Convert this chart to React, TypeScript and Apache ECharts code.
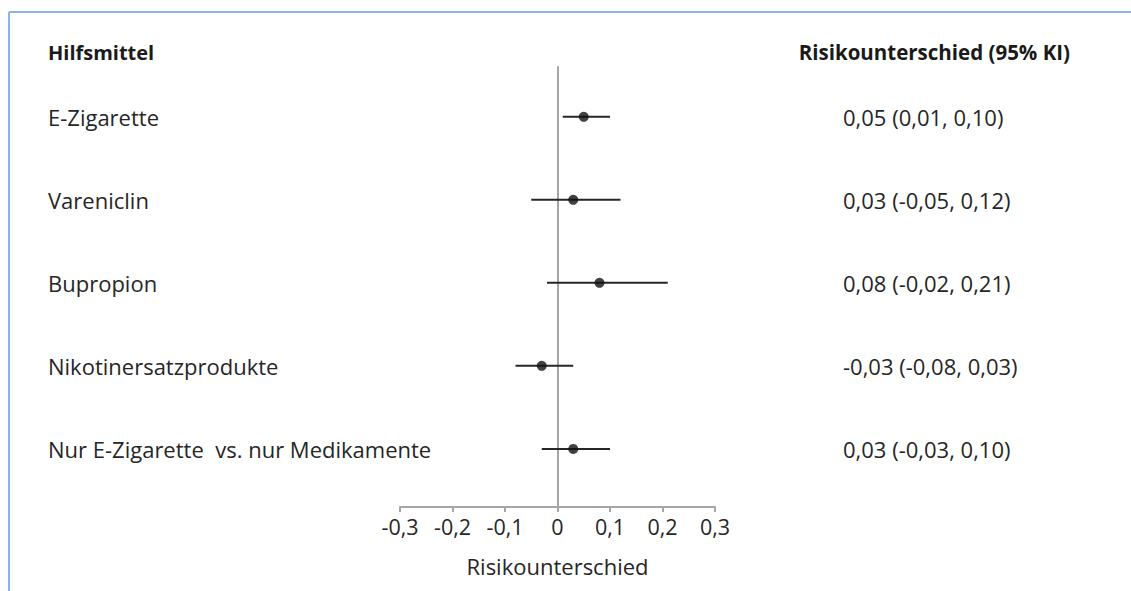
import React, { useEffect, useRef } from "react";
import * as echarts from "echarts";

const categories = [
  "E-Zigarette",
  "Vareniclin",
  "Bupropion",
  "Nikotinersatzprodukte",
  "Nur E-Zigarette  vs. nur Medikamente",
];
const estimates = [0.05, 0.03, 0.08, -0.03, 0.03];
const lowerCI = [0.01, -0.05, -0.02, -0.08, -0.03];
const upperCI = [0.1, 0.12, 0.21, 0.03, 0.1];
const ciLabels = [
  "0,05 (0,01, 0,10)",
  "0,03 (-0,05, 0,12)",
  "0,08 (-0,02, 0,21)",
  "-0,03 (-0,08, 0,03)",
  "0,03 (-0,03, 0,10)",
];

const FONT = "Open Sans";
const FS = 22;
const FSB = 20;

export default function App() {
  const ref = useRef<HTMLDivElement>(null);
  useEffect(() => {
    if (!ref.current) return;
    const chart = echarts.init(ref.current, undefined, { renderer: "svg" });
    const rows = categories.map((c, i) => [estimates[i], i, lowerCI[i], upperCI[i]]);
    chart.setOption({
      animation: false,
      backgroundColor: "#ffffff",
      textStyle: { fontFamily: FONT },
      grid: { left: 400, width: 315, top: 67, height: 440 },
      xAxis: {
        type: "value",
        min: -0.3,
        max: 0.3,
        interval: 0.1,
        axisLine: { onZero: false, lineStyle: { color: "#a6a6a6", width: 2 } },
        axisTick: { show: true, length: 5, lineStyle: { color: "#a6a6a6", width: 2 } },
        splitLine: { show: false },
        axisLabel: {
          color: "#262626",
          fontSize: 21.5,
          fontFamily: FONT,
          margin: 8,
          formatter: (v: number) => {
            const r = Math.round(v * 10) / 10;
            if (Math.abs(r) < 1e-9) return "0";
            return r.toFixed(1).replace(".", ",");
          },
        },
        name: "Risikounterschied",
        nameLocation: "middle",
        nameGap: 48,
        nameTextStyle: { color: "#262626", fontSize: FS, fontFamily: FONT },
      },
      yAxis: {
        type: "value",
        inverse: true,
        min: -0.6,
        max: 4.7,
        axisLine: { show: true, onZero: true, lineStyle: { color: "#a6a6a6", width: 2 } },
        axisTick: { show: false },
        axisLabel: { show: false },
        splitLine: { show: false },
      },
      graphic: [
        {
          type: "line",
          shape: { x1: 9, y1: 12, x2: 1131, y2: 12 },
          style: { stroke: "#8fb4e3", lineWidth: 2 },
        },
        {
          type: "line",
          shape: { x1: 9, y1: 12, x2: 9, y2: 591 },
          style: { stroke: "#8fb4e3", lineWidth: 2 },
        },
        {
          type: "text",
          x: 48,
          y: 52,
          style: {
            text: "Hilfsmittel",
            fontFamily: FONT,
            fontWeight: "bold",
            fontSize: FSB,
            fill: "#1a1a1a",
            textAlign: "left",
            textVerticalAlign: "middle",
          },
        },
        {
          type: "text",
          x: 1070,
          y: 52,
          style: {
            text: "Risikounterschied (95% KI)",
            fontFamily: FONT,
            fontWeight: "bold",
            fontSize: 20.5,
            fill: "#1a1a1a",
            textAlign: "right",
            textVerticalAlign: "middle",
          },
        },
      ],
      series: [
        {
          type: "custom",
          clip: false,
          data: rows,
          encode: { x: 0, y: 1 },
          renderItem: (params: any, api: any) => {
            const idx = api.value(1);
            const p1 = api.coord([api.value(2), idx]);
            const p2 = api.coord([api.value(3), idx]);
            const i = params.dataIndex;
            return {
              type: "group",
              children: [
                {
                  type: "line",
                  shape: { x1: p1[0], y1: p1[1], x2: p2[0], y2: p2[1] },
                  style: { stroke: "#262626", lineWidth: 2 },
                },
                {
                  type: "text",
                  x: 48,
                  y: p1[1],
                  style: {
                    text: categories[i],
                    fontFamily: FONT,
                    fontSize: FS,
                    fill: "#262626",
                    textAlign: "left",
                    textVerticalAlign: "middle",
                  },
                },
                {
                  type: "text",
                  x: 843,
                  y: p1[1],
                  style: {
                    text: ciLabels[i],
                    fontFamily: FONT,
                    fontSize: FS,
                    fill: "#262626",
                    textAlign: "left",
                    textVerticalAlign: "middle",
                  },
                },
              ],
            };
          },
        },
        {
          type: "scatter",
          data: rows.map((r) => [r[0], r[1]]),
          symbol: "circle",
          symbolSize: 10,
          itemStyle: { color: "#111111" },
          z: 5,
        },
      ],
    });
    return () => chart.dispose();
  }, []);
  return (
    <div
      ref={ref}
      style={{ position: "absolute", left: 0, top: 0, width: 1131, height: 591 }}
    />
  );
}
